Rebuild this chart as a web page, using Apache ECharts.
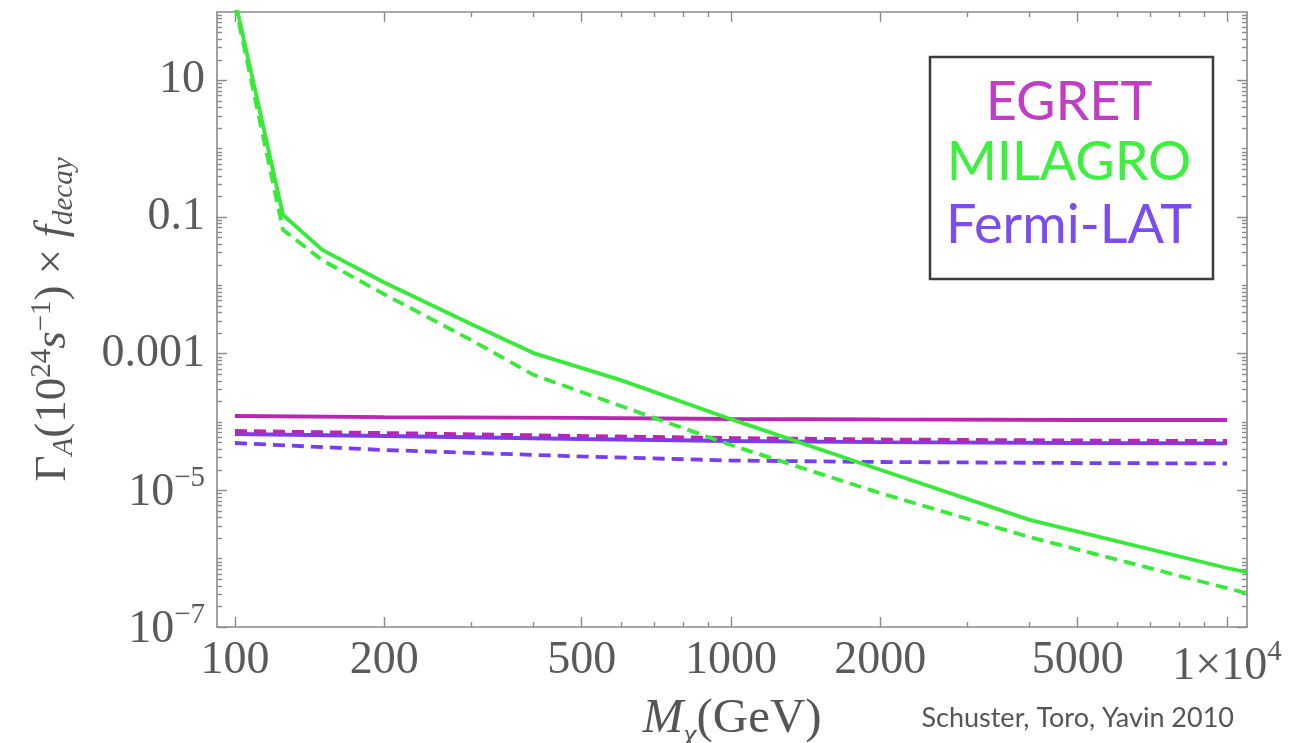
<!DOCTYPE html>
<html>
<head>
<meta charset="utf-8">
<script src="https://cdn.jsdelivr.net/npm/echarts@6/dist/echarts.min.js"></script>
<style>
  html, body { margin: 0; padding: 0; background: #ffffff; }
  #chart { width: 1298px; height: 743px; }
</style>
</head>
<body>
<div id="chart"></div>
<script>
// Dark-matter mass M_chi in GeV, and limits on Gamma_A x f_decay in units of 10^24 s^-1
const milagroMass   = [100, 125, 150, 200, 300, 400, 600, 1000, 2000, 4000, 10000, 11000];
const milagroSolid  = [150, 0.107, 0.033, 0.011, 0.0027, 1.02e-3, 4.1e-4, 1.1e-4, 2.0e-5, 3.7e-6, 7.3e-7, 6.3e-7];
const milagroDashed = [130, 0.065, 0.0233, 7.4e-3, 1.57e-3, 4.9e-4, 1.71e-4, 4.6e-5, 9.1e-6, 2.07e-6, 3.7e-7, 3.1e-7];

const flatMass     = [100, 200, 500, 1000, 2000, 5000, 10000];
const egretSolid   = [1.225e-4, 1.18e-4, 1.146e-4, 1.107e-4, 1.09e-4, 1.07e-4, 1.07e-4];
const egretDashed  = [7.38e-5, 6.9e-5, 6.24e-5, 5.83e-5, 5.55e-5, 5.36e-5, 5.27e-5];
const fermiSolid   = [6.67e-5, 6.24e-5, 5.64e-5, 5.27e-5, 5.09e-5, 4.93e-5, 4.85e-5];
const fermiDashed  = [4.93e-5, 3.89e-5, 3.13e-5, 2.73e-5, 2.60e-5, 2.51e-5, 2.47e-5];

// Axis ranges and ticks
const xRange = [92, 10970];
const yRange = [1e-7, 100];
const xTickValues = [100, 200, 500, 1000, 2000, 5000, 10000];
const xTickLabels = ['100', '200', '500', '1000', '2000', '5000', '{n|1×10}{sup|4}'];
const xMinorValues = [300, 400, 600, 700, 800, 900, 3000, 4000, 6000, 7000, 8000, 9000];
const yTickValues = [1e-7, 1e-5, 1e-3, 0.1, 10];
const yTickLabels = ['{n|10}{sup|−7}', '{n|10}{sup|−5}', '0.001', '0.1', '10'];

const lg = Math.log10;

// minor ticks on the log y axis: k x 10^e that are not labelled
const yMinorValues = [];
for (let e = -7; e <= 1; e++) {
  for (let k = 1; k <= 9; k++) {
    const v = k * Math.pow(10, e);
    if (k === 1 && yTickValues.some(t => Math.abs(lg(t) - lg(v)) < 1e-9)) continue;
    if (lg(v) >= lg(yRange[1]) - 1e-9) continue;
    yMinorValues.push(v);
  }
}

const frameColor = '#8a8a8a';
const labelColor = '#5a5a5a';
const titleColor = '#555555';
const serif = '"Liberation Serif", "DejaVu Serif", serif';
const sans = 'Lato, "Open Sans", sans-serif';

const colors = {
  egret: '#b826b2',
  milagro: '#38ea38',
  fermi: '#7a3cef'
};

function pickLabel(values, labels) {
  return function (v) {
    const i = values.findIndex(t => Math.abs(lg(t) - v) < 1e-6);
    return i >= 0 ? labels[i] : '';
  };
}

const supRich = {
  n: { fontSize: 46, fontFamily: serif, color: labelColor, lineHeight: 52, verticalAlign: 'bottom' },
  sup: { fontSize: 29, fontFamily: serif, color: labelColor, lineHeight: 29, verticalAlign: 'top' }
};

function frameAxis(kind, position, values, tickLen, main) {
  const isX = kind === 'x';
  const range = isX ? xRange : yRange;
  return {
    type: 'value',
    position: position,
    min: lg(range[0]),
    max: lg(range[1]),
    scale: true,
    splitLine: { show: false },
    axisLine: { show: main, onZero: false, lineStyle: { color: frameColor, width: 1.6 } },
    axisTick: {
      show: true, inside: true, length: tickLen,
      customValues: values.map(lg),
      lineStyle: { color: frameColor, width: 1.4 }
    },
    axisLabel: { show: false }
  };
}

const xAxes = [
  frameAxis('x', 'bottom', xTickValues, 10, true),
  frameAxis('x', 'bottom', xMinorValues, 5, false),
  frameAxis('x', 'top', xTickValues, 10, true),
  frameAxis('x', 'top', xMinorValues, 5, false)
];
const yAxes = [
  frameAxis('y', 'left', yTickValues, 10, true),
  frameAxis('y', 'left', yMinorValues, 5, false),
  frameAxis('y', 'right', yTickValues, 10, true),
  frameAxis('y', 'right', yMinorValues, 5, false)
];

// tick labels and titles on the bottom and left axes
Object.assign(xAxes[0], {
  axisLabel: {
    show: true,
    customValues: xTickValues.map(lg),
    formatter: pickLabel(xTickValues, xTickLabels),
    margin: 11,
    color: labelColor,
    fontFamily: serif,
    fontSize: 46,
    rich: supRich
  },
  name: '{m|M}{chi|χ}{p|(GeV)}',
  nameLocation: 'middle',
  nameGap: 57,
  nameTextStyle: {
    rich: {
      m: { fontSize: 49, fontFamily: serif, fontStyle: 'italic', color: titleColor, lineHeight: 56, verticalAlign: 'top' },
      chi: { fontSize: 30, fontFamily: serif, fontStyle: 'italic', color: titleColor, lineHeight: 30, verticalAlign: 'bottom' },
      p: { fontSize: 49, fontFamily: serif, color: titleColor, lineHeight: 56, verticalAlign: 'top' }
    }
  }
});

Object.assign(yAxes[0], {
  axisLabel: {
    show: true,
    customValues: yTickValues.map(lg),
    formatter: pickLabel(yTickValues, yTickLabels),
    margin: 12,
    color: labelColor,
    fontFamily: serif,
    fontSize: 46,
    rich: supRich
  },
  name: '{g|Γ}{sub|A}{g|(10}{sup|24}{i|s}{sup|−1}{g|) × }{i|f}{sub|decay}',
  nameLocation: 'middle',
  nameRotate: 90,
  nameGap: 138,
  nameTextStyle: {
    rich: {
      g: { fontSize: 45, fontFamily: serif, color: titleColor, lineHeight: 51, verticalAlign: 'middle' },
      i: { fontSize: 45, fontFamily: serif, fontStyle: 'italic', color: titleColor, lineHeight: 51, verticalAlign: 'middle' },
      sup: { fontSize: 29, fontFamily: serif, color: titleColor, lineHeight: 29, verticalAlign: 'top' },
      sub: { fontSize: 29, fontFamily: serif, fontStyle: 'italic', color: titleColor, lineHeight: 29, verticalAlign: 'bottom' }
    }
  }
});

function toPoints(mass, vals) {
  return mass.map((m, i) => [lg(m), lg(vals[i])]);
}

function line(name, mass, vals, color, dashed) {
  return {
    name: name,
    type: 'line',
    xAxisIndex: 0,
    yAxisIndex: 0,
    data: toPoints(mass, vals),
    showSymbol: false,
    symbol: 'none',
    clip: true,
    smooth: false,
    lineStyle: { color: color, width: 3.8, type: dashed ? [12, 7] : 'solid', cap: 'butt' },
    emphasis: { disabled: true },
    silent: true
  };
}

const option = {
  animation: false,
  backgroundColor: '#ffffff',
  grid: { left: 217, right: 51, top: 12, bottom: 116, containLabel: false, outerBoundsMode: 'none' },
  xAxis: xAxes,
  yAxis: yAxes,
  series: [
    line('Fermi-LAT', flatMass, fermiDashed, colors.fermi, true),
    line('Fermi-LAT', flatMass, fermiSolid, colors.fermi, false),
    line('EGRET', flatMass, egretSolid, colors.egret, false),
    line('EGRET', flatMass, egretDashed, colors.egret, true),
    line('MILAGRO', milagroMass, milagroDashed, colors.milagro, true),
    line('MILAGRO', milagroMass, milagroSolid, colors.milagro, false)
  ],
  graphic: [
    {
      type: 'rect', z: 100,
      shape: { x: 930, y: 57, width: 283, height: 222 },
      style: { fill: '#ffffff', stroke: '#3c3c3c', lineWidth: 2.5 }
    },
    {
      type: 'text', z: 101, x: 1069, y: 103,
      style: { text: 'EGRET', fill: '#c23cc6', fontSize: 54, fontFamily: sans, align: 'center', verticalAlign: 'middle' }
    },
    {
      type: 'text', z: 101, x: 1069, y: 163,
      style: { text: 'MILAGRO', fill: '#3ef03e', fontSize: 54, fontFamily: sans, align: 'center', verticalAlign: 'middle' }
    },
    {
      type: 'text', z: 101, x: 1069, y: 226,
      style: { text: 'Fermi-LAT', fill: '#7b4cf0', fontSize: 54, fontFamily: sans, align: 'center', verticalAlign: 'middle' }
    },
    {
      type: 'text', z: 101, x: 1234, y: 718,
      style: { text: 'Schuster, Toro, Yavin 2010', fill: '#555555', fontSize: 27, fontFamily: sans, align: 'right', verticalAlign: 'middle' }
    }
  ]
};

const chart = echarts.init(document.getElementById('chart'), null, { renderer: 'canvas' });
chart.setOption(option);
</script>
</body>
</html>
